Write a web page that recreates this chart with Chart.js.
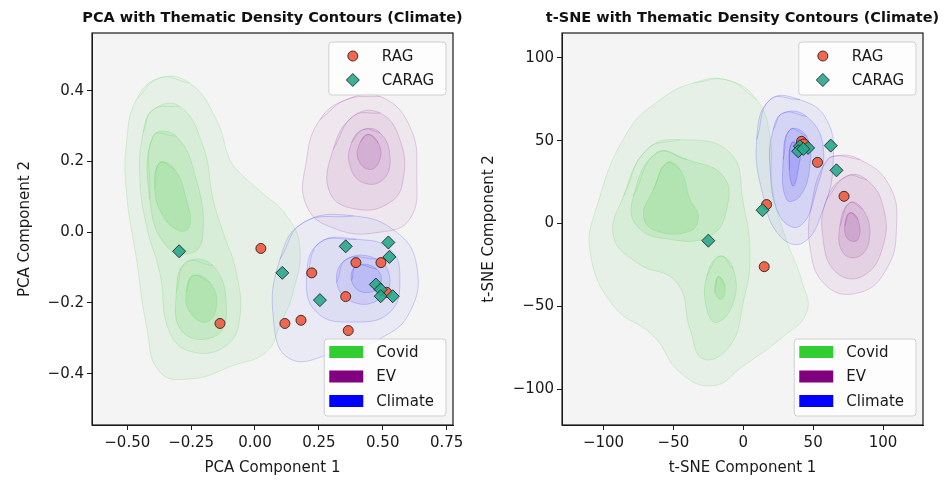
<!DOCTYPE html>
<html>
<head>
<meta charset="utf-8">
<title>Thematic Density Contours</title>
<script src="https://cdn.jsdelivr.net/npm/chart.js"></script>
<style>
    body { margin: 0; background: #fff; width: 947px; height: 480px; overflow: hidden; position: relative; }
    canvas { position: absolute; top: 0; }
    #pca { left: 0; }
    #tsne { left: 474px; }
</style>
</head>
<body>
<canvas id="pca" width="474" height="480"></canvas>
<canvas id="tsne" width="473" height="480"></canvas>
<script>
// ---- data ----
const pcaXTicks = [-0.5, -0.25, 0, 0.25, 0.5, 0.75];
const pcaYTicks = [-0.4, -0.2, 0, 0.2, 0.4];
const tsneXTicks = [-100, -50, 0, 50, 100];
const tsneYTicks = [-100, -50, 0, 50, 100];

const pcaRag = [[0.023, -0.046], [0.222, -0.115], [0.395, -0.086], [0.493, -0.086], [0.355, -0.182],
    [-0.137, -0.258], [0.117, -0.258], [0.18, -0.249], [0.365, -0.278], [0.515, -0.17]];
const pcaCarag = [[-0.297, -0.054], [0.107, -0.115], [0.355, -0.04], [0.522, -0.029], [0.526, -0.07],
    [0.254, -0.192], [0.473, -0.148], [0.492, -0.162], [0.492, -0.181], [0.539, -0.181]];

const tsneRag = [[53.1, 36.9], [72.1, 16.4], [16.7, 11.4], [15, -26.1], [41.7, 49.6], [43.5, 48]];
const tsneCarag = [[-25, -10.4], [13.8, 8], [62.6, 47], [66.7, 32.1], [40.5, 46.6], [46.4, 45.6],
    [39.3, 43.6], [43, 45]];

// density contour outlines (outer -> inner)
const pcaCovidOuter = [[-0.373, 0.436], [-0.255, 0.421], [-0.151, 0.318], [-0.099, 0.206], [-0.06, 0.168],
    [0.03, 0.11], [0.12, 0.05], [0.175, -0.039], [0.149, -0.17], [0.097, -0.264], [0.044, -0.339],
    [-0.086, -0.377], [-0.243, -0.414], [-0.373, -0.395], [-0.425, -0.264], [-0.464, -0.076],
    [-0.503, 0.112], [-0.503, 0.253], [-0.464, 0.375]];
const pcaCovidMid = [[-0.399, 0.346], [-0.295, 0.356], [-0.203, 0.243], [-0.164, 0.093], [-0.125, 0],
    [-0.073, -0.114], [-0.06, -0.245], [-0.112, -0.32], [-0.243, -0.339], [-0.334, -0.283],
    [-0.373, -0.114], [-0.425, 0.018], [-0.451, 0.159], [-0.438, 0.281]];
const pcaCovidUpper = [[-0.399, 0.271], [-0.308, 0.271], [-0.23, 0.149], [-0.203, 0], [-0.243, -0.057],
    [-0.347, -0.039], [-0.412, 0.093]];
const pcaCovidLower = [[-0.269, -0.085], [-0.164, -0.095], [-0.112, -0.208], [-0.151, -0.292],
    [-0.282, -0.283], [-0.308, -0.17]];
const pcaCovidUpperCore = [[-0.373, 0.196], [-0.314, 0.177], [-0.269, 0.093], [-0.255, 0.018],
    [-0.295, 0.004], [-0.36, 0.046], [-0.392, 0.121]];
const pcaCovidLowerCore = [[-0.243, -0.123], [-0.177, -0.142], [-0.151, -0.208], [-0.19, -0.254],
    [-0.255, -0.226], [-0.269, -0.17]];

const pcaEvOuter = [[0.359, 0.375], [0.489, 0.384], [0.606, 0.299], [0.633, 0.159], [0.606, 0.037],
    [0.489, 0], [0.32, 0.008], [0.202, 0.074], [0.202, 0.206], [0.254, 0.318]];
const pcaEvMid = [[0.385, 0.328], [0.489, 0.337], [0.567, 0.262], [0.58, 0.149], [0.528, 0.084],
    [0.398, 0.065], [0.293, 0.112], [0.306, 0.234]];
const pcaEvInner = [[0.424, 0.29], [0.489, 0.281], [0.528, 0.215], [0.502, 0.149], [0.424, 0.14],
    [0.372, 0.187], [0.378, 0.253]];
const pcaEvCore = [[0.443, 0.276], [0.482, 0.253], [0.489, 0.206], [0.45, 0.177], [0.404, 0.206],
    [0.411, 0.253]];

const pcaClimOuter = [[0.189, 0.027], [0.385, 0.046], [0.554, 0], [0.633, -0.095], [0.606, -0.226],
    [0.489, -0.301], [0.32, -0.339], [0.137, -0.358], [0.072, -0.245], [0.098, -0.076]];
const pcaClimMid = [[0.254, -0.029], [0.398, -0.02], [0.528, -0.048], [0.567, -0.132], [0.528, -0.226],
    [0.385, -0.254], [0.241, -0.226], [0.202, -0.123]];
const pcaClimInner = [[0.359, -0.076], [0.476, -0.076], [0.528, -0.132], [0.489, -0.189],
    [0.385, -0.198], [0.32, -0.142]];
const pcaClimCore = [[0.398, -0.095], [0.476, -0.104], [0.489, -0.151], [0.424, -0.17], [0.378, -0.137]];

const tsneCovidOuter = [[-11.9, 86.7], [9.6, 74.7], [19.1, 52.6], [21, 20], [30, -8], [42, -35],
    [45.3, -53.8], [26.2, -69.9], [0, -86], [-21.4, -98], [-45.2, -90], [-64.3, -67.9], [-92.9, -49.8],
    [-109.5, -17.7], [-104.7, 10.4], [-83.3, 54.6], [-59.5, 74.7], [-35.7, 84.8]];
const tsneCovidMid = [[-69, 44.6], [-45.2, 50.6], [-9.5, 42.6], [0, 12.5], [4.8, -19.7], [0, -47.8],
    [-9.5, -73.9], [-28.6, -81.9], [-38.1, -63.9], [-47.6, -35.7], [-76.1, -23.7], [-92.9, -7.6],
    [-85.7, 16.4]];
const tsneCovidUpper = [[-61.9, 42.6], [-40.4, 38.6], [-14.3, 28.5], [-11.9, 8.4], [-23.8, -7.6],
    [-52.4, -9.6], [-76.1, -1.6], [-78.6, 16.4]];
const tsneCovidUpperCore = [[-54.7, 36.6], [-45.2, 32.5], [-38.1, 14.5], [-32.1, 4.4], [-38.1, -4.6],
    [-61.9, -4.6], [-71.4, 4.4], [-64.3, 20.5]];
const tsneCovidLower = [[-16.7, -19.7], [-7.1, -27.7], [-7.1, -47.8], [-19, -59.8], [-26.1, -51.8],
    [-26.1, -31.7]];
const tsneCovidLowerCore = [[-17.9, -32.1], [-13.1, -37.8], [-15.4, -45.8], [-20.2, -41.7]];

const tsneClimOuter = [[19.1, 74.7], [40.5, 74.7], [59.6, 62.7], [64.3, 36.6], [57.1, 8.4],
    [42.9, -11.6], [26.2, -7.6], [14.3, 16.4], [9.6, 50.6]];
const tsneClimMid = [[28.6, 66.7], [45.3, 64.6], [57.1, 46.6], [52.4, 20.5], [40.5, -1.6], [26.2, 4.4],
    [19.1, 34.5], [21.4, 56.6]];
const tsneClimInner = [[33.4, 56.6], [45.3, 52.6], [47.6, 34.5], [40.5, 16.4], [31, 14.5], [28.6, 38.6]];
const tsneClimCore = [[34.6, 48.6], [40.5, 46.6], [39.3, 32.5], [35.7, 22.5], [32.9, 32.5]];

const tsneEvOuter = [[64.3, 40.5], [83.4, 38.6], [104.8, 22.5], [109.6, -3.6], [102.4, -27.7],
    [83.4, -41.7], [59.6, -37.8], [47.6, -13.7], [50, 16.4], [57.1, 34.5]];
const tsneEvMid = [[73.9, 28.5], [88.1, 26.5], [100, 10.4], [100, -13.7], [85.7, -31.7], [66.7, -29.7],
    [57.1, -9.6], [59.6, 14.5]];
const tsneEvInner = [[76.2, 12.5], [85.7, 8.4], [90.5, -7.6], [83.4, -19.7], [71.4, -17.7], [69.1, -1.6]];
const tsneEvCore = [[76.2, 6.4], [82.1, 2.4], [82.1, -9.6], [75, -9.6], [72.6, -1.6]];

const themeNames = ['Covid', 'EV', 'Climate'];
const themeColors = ['#32cd32', '#800080', '#0000ff'];
const GREEN = '50,205,50', PURPLE = '128,0,128', BLUE = '0,0,255';

// ---- helpers ----
Chart.defaults.font.family = "'DejaVu Sans', sans-serif";
Chart.defaults.font.size = 15;
Chart.defaults.color = '#1a1a1a';

const minus = s => String(s).replace('-', '\u2212');

function contour(poly, rgb, alpha) {
    // wrap one point on each side so the spline closes without a corner
    const n = poly.length;
    const ring = [poly[n - 1]].concat(poly, [poly[0], poly[1]]);
    return {
        type: 'line',
        data: ring.map(p => ({ x: p[0], y: p[1] })),
        fill: 'shape',
        backgroundColor: `rgba(${rgb},${alpha})`,
        borderColor: `rgba(${rgb},0.2)`,
        borderWidth: 0.9,
        pointRadius: 0,
        tension: 0.45,
        order: 5
    };
}

function points(arr, label, style) {
    return Object.assign({
        label: label,
        data: arr.map(p => ({ x: p[0], y: p[1] })),
        borderColor: 'rgba(30,30,30,0.85)',
        borderWidth: 1,
    }, style);
}

const ragStyle = { pointStyle: 'circle', pointRadius: 5, backgroundColor: 'rgba(240,95,70,0.95)', order: 1 };
const caragStyle = { pointStyle: 'rectRot', pointRadius: 6.5, backgroundColor: 'rgba(40,168,140,0.9)', order: 0 };

const panelPlugin = {
    id: 'panel',
    beforeDraw(chart) {
        const { ctx, chartArea: a } = chart;
        ctx.save();
        ctx.fillStyle = '#f4f4f4';
        ctx.fillRect(a.left, a.top, a.right - a.left, a.bottom - a.top);
        ctx.restore();
    },
    afterDraw(chart, args, opts) {
        const { ctx, chartArea: a } = chart;
        ctx.save();
        // spines
        ctx.strokeStyle = '#1a1a1a';
        ctx.lineWidth = 1.2;
        ctx.strokeRect(a.left, a.top, a.right - a.left, a.bottom - a.top);
        // title
        ctx.fillStyle = '#111';
        ctx.font = "bold 14.5px 'DejaVu Sans'";
        ctx.textAlign = 'center';
        ctx.textBaseline = 'middle';
        ctx.fillText(opts.title, (a.left + a.right) / 2, 18);

        ctx.font = "15px 'DejaVu Sans'";
        ctx.textAlign = 'left';
        const box = (x, y, w, h) => {
            ctx.beginPath();
            ctx.roundRect(x, y, w, h, 3);
            ctx.fillStyle = 'rgba(255,255,255,0.8)';
            ctx.fill();
            ctx.strokeStyle = '#d0d0d0';
            ctx.lineWidth = 1;
            ctx.stroke();
        };
        // marker legend (top right)
        const mk = [chart.data.datasets[0], chart.data.datasets[1]];
        let tw = Math.max(...mk.map(d => ctx.measureText(d.label).width));
        let right = a.right - 7;
        let left = right - 12 - tw - 53;
        box(left, a.top + 9, right - left, 53);
        mk.forEach((d, i) => {
            const y = a.top + 23 + i * 24;
            const x = left + 24;
            ctx.beginPath();
            if (d.pointStyle === 'circle') {
                ctx.arc(x, y, 5, 0, Math.PI * 2);
            } else {
                ctx.moveTo(x, y - 6.5); ctx.lineTo(x + 6.5, y); ctx.lineTo(x, y + 6.5); ctx.lineTo(x - 6.5, y);
                ctx.closePath();
            }
            ctx.fillStyle = d.backgroundColor;
            ctx.fill();
            ctx.strokeStyle = d.borderColor;
            ctx.lineWidth = 1;
            ctx.stroke();
            ctx.fillStyle = '#1a1a1a';
            ctx.fillText(d.label, left + 53, y + 1);
        });
        // theme legend (bottom right)
        tw = Math.max(...themeNames.map(t => ctx.measureText(t).width));
        left = right - 12 - tw - 52;
        const top = a.bottom - 86;
        box(left, top, right - left, 77);
        themeNames.forEach((t, i) => {
            const y = top + 13 + i * 24.5;
            ctx.fillStyle = themeColors[i];
            ctx.fillRect(left + 5, y - 6, 34, 12);
            ctx.fillStyle = '#1a1a1a';
            ctx.fillText(t, left + 52, y + 1);
        });
        ctx.restore();
    }
};

function makePanel(id, p) {
    return new Chart(document.getElementById(id), {
        type: 'scatter',
        data: { datasets: p.datasets },
        options: {
            responsive: false,
            animation: false,
            events: [],
            layout: { padding: { top: 33, right: p.padRight, bottom: 0, left: 0 } },
            plugins: { legend: { display: false }, tooltip: { enabled: false }, panel: { title: p.title } },
            scales: {
                x: {
                    type: 'linear', min: p.xMin, max: p.xMax,
                    afterBuildTicks: s => { s.ticks = p.xTicks.map(v => ({ value: v })); },
                    afterFit: s => { s.height = 55; },
                    ticks: { padding: 4, autoSkip: false, maxRotation: 0, callback: v => minus(p.xFmt(v)) },
                    grid: { drawOnChartArea: false, drawTicks: true, tickLength: 5, color: '#1a1a1a' },
                    border: { display: true, color: '#1a1a1a' },
                    title: { display: true, text: p.xLabel, padding: { top: 0, bottom: 3 } }
                },
                y: {
                    type: 'linear', min: p.yMin, max: p.yMax,
                    afterBuildTicks: s => { s.ticks = p.yTicks.map(v => ({ value: v })); },
                    afterFit: s => { s.width = p.yWidth; },
                    ticks: { padding: 3, autoSkip: false, callback: v => minus(p.yFmt(v)) },
                    grid: { drawOnChartArea: false, drawTicks: true, tickLength: 5, color: '#1a1a1a' },
                    border: { display: true, color: '#1a1a1a' },
                    title: { display: true, text: p.yLabel, padding: { top: p.yTitlePad, bottom: 0 } }
                }
            }
        },
        plugins: [panelPlugin]
    });
}

makePanel('pca', {
    title: 'PCA with Thematic Density Contours (Climate)',
    xLabel: 'PCA Component 1', yLabel: 'PCA Component 2',
    xMin: -0.638, xMax: 0.775, yMin: -0.545, yMax: 0.563,
    xTicks: pcaXTicks, yTicks: pcaYTicks,
    xFmt: v => v.toFixed(2), yFmt: v => v.toFixed(1),
    yWidth: 92, padRight: 21, yTitlePad: 16,
    datasets: [
        points(pcaRag, 'RAG', ragStyle),
        points(pcaCarag, 'CARAG', caragStyle),
        contour(pcaCovidOuter, GREEN, 0.07),
        contour(pcaCovidMid, GREEN, 0.09),
        contour(pcaCovidUpper, GREEN, 0.1),
        contour(pcaCovidLower, GREEN, 0.1),
        contour(pcaCovidUpperCore, GREEN, 0.13),
        contour(pcaCovidLowerCore, GREEN, 0.13),
        contour(pcaEvOuter, PURPLE, 0.05),
        contour(pcaEvMid, PURPLE, 0.07),
        contour(pcaEvInner, PURPLE, 0.09),
        contour(pcaEvCore, PURPLE, 0.1),
        contour(pcaClimOuter, BLUE, 0.04),
        contour(pcaClimMid, BLUE, 0.05),
        contour(pcaClimInner, BLUE, 0.07),
        contour(pcaClimCore, BLUE, 0.09)
    ]
});

makePanel('tsne', {
    title: 't-SNE with Thematic Density Contours (Climate)',
    xLabel: 't-SNE Component 1', yLabel: 't-SNE Component 2',
    xMin: -129.7, xMax: 128.6, yMin: -121.7, yMax: 115,
    xTicks: tsneXTicks, yTicks: tsneYTicks,
    xFmt: v => v.toFixed(0), yFmt: v => v.toFixed(0),
    yWidth: 88, padRight: 24, yTitlePad: 6,
    datasets: [
        points(tsneRag, 'RAG', ragStyle),
        points(tsneCarag, 'CARAG', caragStyle),
        contour(tsneCovidOuter, GREEN, 0.07),
        contour(tsneCovidMid, GREEN, 0.09),
        contour(tsneCovidUpper, GREEN, 0.1),
        contour(tsneCovidLower, GREEN, 0.1),
        contour(tsneCovidUpperCore, GREEN, 0.12),
        contour(tsneCovidLowerCore, GREEN, 0.12),
        contour(tsneClimOuter, BLUE, 0.05),
        contour(tsneClimMid, BLUE, 0.08),
        contour(tsneClimInner, BLUE, 0.1),
        contour(tsneClimCore, BLUE, 0.12),
        contour(tsneEvOuter, PURPLE, 0.06),
        contour(tsneEvMid, PURPLE, 0.08),
        contour(tsneEvInner, PURPLE, 0.1),
        contour(tsneEvCore, PURPLE, 0.12)
    ]
});
</script>
</body>
</html>
